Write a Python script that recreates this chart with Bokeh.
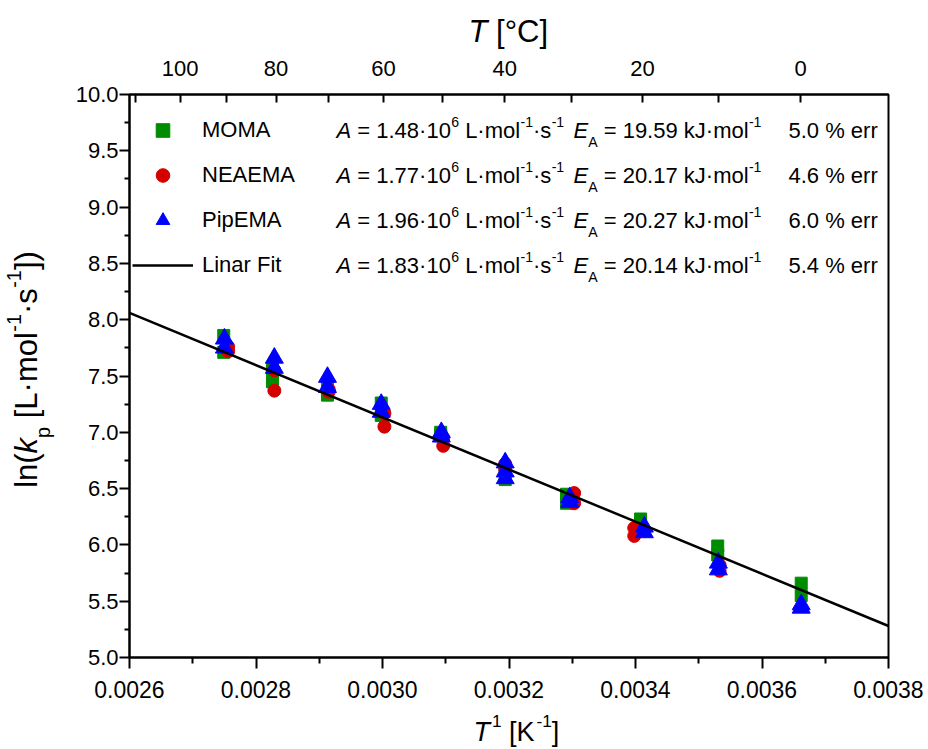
import math
from bokeh.plotting import figure
from bokeh.layouts import row, column
from bokeh.models import (Range1d, LinearAxis, FixedTicker, CustomJSTickFormatter,
                          NumeralTickFormatter, Label, Legend, LegendItem)
from bokeh.embed import file_html
from bokeh.resources import INLINE

# ---------------- data ----------------
moma_inv_t = [0.002749, 0.002749, 0.002826, 0.002826, 0.002913, 0.002913, 0.002998, 0.002998,
              0.003092, 0.003092, 0.003194, 0.003194, 0.003291, 0.003291, 0.003408, 0.003408,
              0.003530, 0.003530, 0.003662, 0.003662]
moma_ln_kp = [7.86, 7.71, 7.56, 7.45, 7.33, 7.40, 7.26, 7.15, 7.00, 6.97,
              6.58, 6.66, 6.45, 6.37, 6.23, 6.19, 5.99, 5.91, 5.66, 5.55]

neaema_inv_t = [0.002756, 0.002756, 0.002829, 0.002829, 0.002915, 0.002915, 0.003003, 0.003003,
                0.003096, 0.003096, 0.003194, 0.003194, 0.003303, 0.003303, 0.003398, 0.003398,
                0.003533, 0.003533]
neaema_ln_kp = [7.72, 7.76, 7.37, 7.55, 7.36, 7.38, 7.05, 7.17, 6.88, 6.95,
                6.72, 6.67, 6.46, 6.37, 6.08, 6.15, 5.77, 5.82]

pipema_inv_t = [0.002750, 0.002750, 0.002829, 0.002829, 0.002913, 0.002913, 0.002998, 0.002998,
                0.003093, 0.003093, 0.003194, 0.003194, 0.003194, 0.003296, 0.003296,
                0.003414, 0.003414, 0.003531, 0.003531, 0.003662, 0.003662]
pipema_ln_kp = [7.83, 7.75, 7.66, 7.57, 7.49, 7.40, 7.25, 7.18, 7.00, 6.96,
                6.73, 6.65, 6.59, 6.42, 6.38, 6.16, 6.11, 5.84, 5.78, 5.47, 5.44]

fit_inv_t = [0.0026, 0.0038]
fit_ln_kp = [8.06, 5.28]

legend_names = ["MOMA", "NEAEMA", "PipEMA", "Linar Fit"]
pre_factor = ["1.48", "1.77", "1.96", "1.83"]
activation = ["19.59", "20.17", "20.27", "20.14"]
error_pct = ["5.0", "4.6", "6.0", "5.4"]

x_ticks = [0.0026, 0.0028, 0.0030, 0.0032, 0.0034, 0.0036, 0.0038]
x_minor = [0.0027, 0.0029, 0.0031, 0.0033, 0.0035, 0.0037]
y_ticks = [5.0, 5.5, 6.0, 6.5, 7.0, 7.5, 8.0, 8.5, 9.0, 9.5, 10.0]
y_minor = [5.25, 5.75, 6.25, 6.75, 7.25, 7.75, 8.25, 8.75, 9.25, 9.75]
top_celsius = [100, 80, 60, 40, 20, 0]
top_minor_celsius = [110, 90, 70, 50, 30, 10]

# ---------------- style ----------------
GREEN = "#008c00"
RED = "#d40000"
BLUE = "#0000ff"
SANS = "Liberation Sans"

X0, X1 = 0.0026, 0.0038
Y0, Y1 = 5.0, 10.0

LEFT_W = 70
TOP_H = 50
BOT_H = 40
MAIN_W = 858
MAIN_H = 659
B_LEFT, B_RIGHT, B_TOP, B_BOTTOM = 59, 40, 44, 52


def blank(w, h, left=0, right=0):
    f = figure(width=w, height=h, x_range=Range1d(0, w - left - right), y_range=Range1d(0, h),
               output_backend="svg", toolbar_location=None,
               x_axis_location=None, y_axis_location=None,
               min_border_left=left, min_border_right=right,
               min_border_top=0, min_border_bottom=0)
    f.outline_line_color = None
    f.xgrid.visible = False
    f.ygrid.visible = False
    f.background_fill_color = "white"
    f.border_fill_color = "white"
    return f


p = figure(width=MAIN_W, height=MAIN_H, x_range=Range1d(X0, X1), y_range=Range1d(Y0, Y1),
           output_backend="svg", toolbar_location=None,
           min_border_left=B_LEFT, min_border_right=B_RIGHT,
           min_border_top=B_TOP, min_border_bottom=B_BOTTOM)
p.background_fill_color = "white"
p.border_fill_color = "white"
p.outline_line_color = "black"
p.outline_line_width = 2
p.xgrid.visible = False
p.ygrid.visible = False


def style_axis(ax, size, standoff, t_in, t_out, m_in, m_out):
    ax.major_tick_in = t_in
    ax.major_tick_out = t_out
    ax.minor_tick_in = m_in
    ax.minor_tick_out = m_out
    ax.major_label_text_font = SANS
    ax.major_label_text_font_size = size
    ax.major_label_text_color = "black"
    ax.major_label_standoff = standoff
    ax.axis_line_width = 2
    ax.axis_line_color = "black"
    ax.major_tick_line_width = 2
    ax.minor_tick_line_width = 2
    ax.major_tick_line_color = "black"
    ax.minor_tick_line_color = "black"


xa = p.xaxis[0]
xa.ticker = FixedTicker(ticks=x_ticks, minor_ticks=x_minor)
xa.formatter = NumeralTickFormatter(format="0.0000")
style_axis(xa, "23px", 12, 0, 11, 0, 6)

ya = p.yaxis[0]
ya.ticker = FixedTicker(ticks=y_ticks, minor_ticks=y_minor)
ya.formatter = NumeralTickFormatter(format="0.0")
style_axis(ya, "22px", 1, 0, 10, 0, 5)

top = LinearAxis(
    ticker=FixedTicker(ticks=[1.0 / (c + 273.15) for c in top_celsius],
                       minor_ticks=[1.0 / (c + 273.15) for c in top_minor_celsius]),
    formatter=CustomJSTickFormatter(code="return Math.round(1/tick - 273.15).toFixed(0);"))
style_axis(top, "22px", 19, 8, 0, 8, 0)
p.add_layout(top, "above")

# ---------------- data marks ----------------
r_moma = p.scatter(moma_inv_t, moma_ln_kp, marker="square", size=12, color=GREEN)
r_nea = p.scatter(neaema_inv_t, neaema_ln_kp, marker="circle", size=13, color=RED)
r_pip = p.scatter(pipema_inv_t, pipema_ln_kp, marker="triangle", size=18, color=BLUE)
r_fit = p.line(fit_inv_t, fit_ln_kp, line_width=2.5, color="black")

legend = Legend(items=[LegendItem(label=n, renderers=[r])
                       for n, r in zip(legend_names, [r_moma, r_nea, r_pip, r_fit])],
                location=(3, 375), orientation="vertical",
                glyph_width=61, glyph_height=34, label_height=34, spacing=11,
                label_standoff=9, padding=0, margin=0,
                label_text_font=SANS, label_text_font_size="22px", label_text_color="black",
                border_line_color=None, background_fill_alpha=0)
p.add_layout(legend)

# ---------------- rich text helper ----------------
WID = {' ': 278, '%': 889, '(': 333, ')': 333, '-': 333, '.': 278, '=': 584,
       'A': 667, 'C': 722, 'E': 667, 'F': 611, 'I': 278, 'J': 500, 'K': 667, 'L': 556,
       'M': 833, 'N': 722, 'O': 778, 'P': 667, 'T': 611, '[': 278, ']': 278,
       'a': 556, 'e': 556, 'i': 222, 'k': 500, 'l': 222, 'm': 833, 'n': 556, 'o': 556,
       'p': 556, 'r': 333, 's': 500, 't': 278, '\u00b7': 278, '\u00b0': 400}
for d in "0123456789":
    WID[d] = 556

BASELINE_FIX = 0.37   # "alphabetic" labels land this fraction of their size too low


def text_width(s, size):
    return sum(WID.get(ch, 556) for ch in s) * size / 1000.0


def run_size(kind, size):
    return size * 0.64 if kind in ("sup", "sub") else size


def run_gap(kind, size):
    return 0.07 * size if kind == "sup" else 0.0


def runs_width(runs, size):
    return sum(text_width(t, run_size(k, size)) + run_gap(k, size) for t, k in runs)


def rich(fig, ax, ay, runs, start_x, start_y, size, angle=0.0):
    """start_x / start_y: pixel offsets (right / up) of the baseline start from (ax, ay)."""
    ca, sa = math.cos(angle), math.sin(angle)
    adv = 0.0
    for text, kind in runs:
        fs = run_size(kind, size)
        adv += run_gap(kind, size)
        shift = 0.52 * size if kind == "sup" else (-0.40 * size if kind == "sub" else 0.0)
        shift += BASELINE_FIX * fs
        lead = len(text) - len(text.lstrip(" "))
        adv += text_width(" " * lead, fs)
        body = text.strip(" ")
        xo = start_x + adv * ca - shift * sa
        yo = start_y + adv * sa + shift * ca
        fig.add_layout(Label(x=ax, y=ay, x_offset=xo, y_offset=yo, text=body, angle=angle,
                             text_font=SANS, text_font_size=f"{fs:.1f}px",
                             text_font_style="italic" if kind == "i" else "normal",
                             text_baseline="alphabetic", text_align="left",
                             text_color="black"))
        adv += text_width(text[lead:], fs)
    return adv


# legend equation columns (offsets from the frame's top-left corner)
for i in range(4):
    base = -(36 + 45 * i + 8)
    rich(p, X0, Y1, [("A", "i"), (" = " + pre_factor[i] + "\u00b710", "n"), ("6", "sup"),
                     (" L\u00b7mol", "n"), ("-1", "sup"), ("\u00b7s", "n"), ("-1", "sup")],
         207, base, 22)
    rich(p, X0, Y1, [("E", "i"), ("A", "sub"),
                     (" = " + activation[i] + " kJ\u00b7mol", "n"), ("-1", "sup")],
         444, base, 22)
    rich(p, X0, Y1, [(error_pct[i] + " % err", "n")], 659, base, 22)

# axis titles in their own strips (frames aligned with the main frame)
top_fig = blank(MAIN_W, TOP_H, B_LEFT, B_RIGHT)
rich(top_fig, 0, 0, [("T", "i"), (" [\u00b0C]", "n")], 339, 8, 31)

bot_fig = blank(MAIN_W, BOT_H, B_LEFT, B_RIGHT)
rich(bot_fig, 0, 0, [("T", "i"), ("1", "sup"), (" [K", "n"), ("-1", "sup"), ("]", "n")],
     344, 8, 27)

left_fig = blank(LEFT_W, TOP_H + MAIN_H + BOT_H)
left_runs = [("ln(", "n"), ("k", "i"), ("p", "sub"), (" [L\u00b7mol", "n"), ("-1", "sup"),
             ("\u00b7s", "n"), ("-1", "sup"), ("])", "n")]
lw = runs_width(left_runs, 31)
rich(left_fig, 0, 0, left_runs, 37, (TOP_H + MAIN_H + BOT_H - 369) - lw / 2, 31,
     angle=math.pi / 2)

layout = row(left_fig, column(top_fig, p, bot_fig, spacing=0), spacing=0)

open("out.html", "w").write(file_html(layout, INLINE))
